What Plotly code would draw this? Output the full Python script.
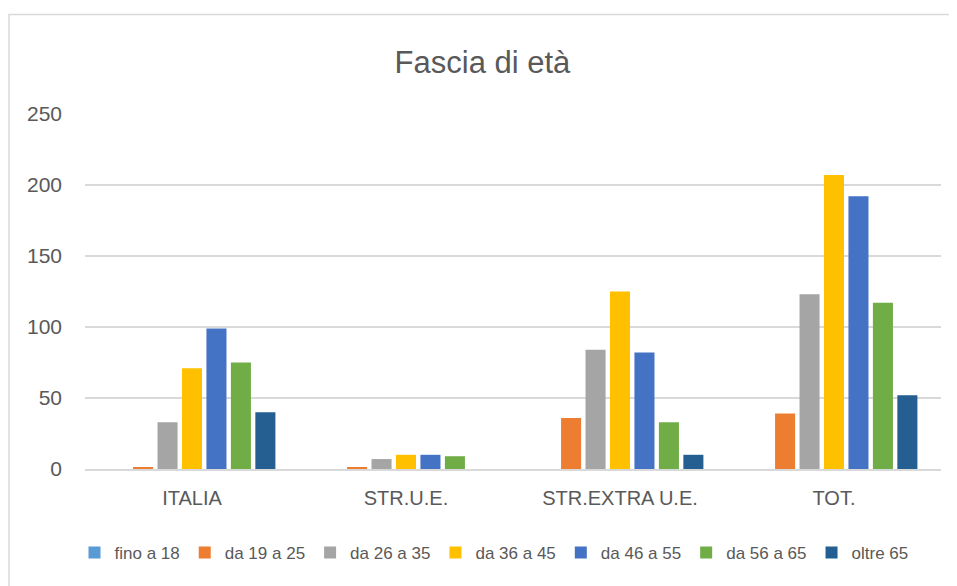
import plotly.graph_objects as go

categories = ["ITALIA", "STR.U.E.", "STR.EXTRA U.E.", "TOT."]
series_names = ["fino a 18", "da 19 a 25", "da 26 a 35", "da 36 a 45",
                "da 46 a 55", "da 56 a 65", "oltre 65"]
fino_18 = [0, 0, 0, 0]
da_19_25 = [1, 1, 36, 39]
da_26_35 = [33, 7, 84, 123]
da_36_45 = [71, 10, 125, 207]
da_46_55 = [99, 10, 82, 192]
da_56_65 = [75, 9, 33, 117]
oltre_65 = [40, 0, 10, 52]
values = [fino_18, da_19_25, da_26_35, da_36_45, da_46_55, da_56_65, oltre_65]
colors = ["#5B9BD5", "#ED7D31", "#A5A5A5", "#FFC000", "#4472C4", "#70AD47", "#255E91"]
y_ticks = [0, 50, 100, 150, 200, 250]

FONT = "Liberation Sans, Arial"
GREY = "#595959"

# page body has an 8px margin; compensate so the figure fills the window
W, H = 949, 578
OFF = 8
PLOT_L, PLOT_R, PLOT_T, PLOT_B = 85, 941, 114.3, 468.7
PW, PH = PLOT_R - PLOT_L, PLOT_B - PLOT_T

fig = go.Figure()
for name, vals, col in zip(series_names, values, colors):
    fig.add_trace(go.Bar(name=name, x=categories, y=vals, marker_color=col,
                         marker_line_width=0))

fig.update_layout(
    width=W, height=H,
    margin=dict(l=PLOT_L - OFF, r=W - (PLOT_R - OFF), t=PLOT_T - OFF,
                b=H - (PLOT_B - OFF), pad=0, autoexpand=False),
    paper_bgcolor="white", plot_bgcolor="white",
    barmode="group", bargap=0.2, bargroupgap=0.18,
    font=dict(family=FONT, color=GREY, size=20),
    title=dict(text="Fascia di età", x=0.5, xanchor="center", y=1 - (62 - OFF) / H,
               yanchor="middle", font=dict(family=FONT, size=31, color=GREY)),
    legend=dict(orientation="h", xref="container", yref="container",
                x=(494 - OFF) / W, xanchor="center", y=1 - (553 - OFF) / H,
                yanchor="middle", font=dict(family=FONT, size=17, color=GREY),
                itemwidth=30, traceorder="normal"),
    showlegend=True,
)
fig.update_yaxes(range=[0, 250], tickvals=y_ticks, showgrid=True,
                 gridcolor="#D9D9D9", gridwidth=1.5, zeroline=False,
                 showline=False, ticks="", ticklabelstandoff=22,
                 tickfont=dict(family=FONT, size=21, color=GREY))
fig.update_xaxes(showline=True, linecolor="#D9D9D9", linewidth=1.5, ticks="",
                 ticklabelstandoff=10,
                 tickfont=dict(family=FONT, size=20, color=GREY))

fig.add_shape(type="rect", xref="paper", yref="paper",
              x0=(9 - PLOT_L) / PW, x1=1.2,
              y0=-0.5, y1=(PLOT_B - 15) / PH,
              line=dict(color="#D9D9D9", width=1.5), fillcolor="rgba(0,0,0,0)")

fig.write_html("out.html")
